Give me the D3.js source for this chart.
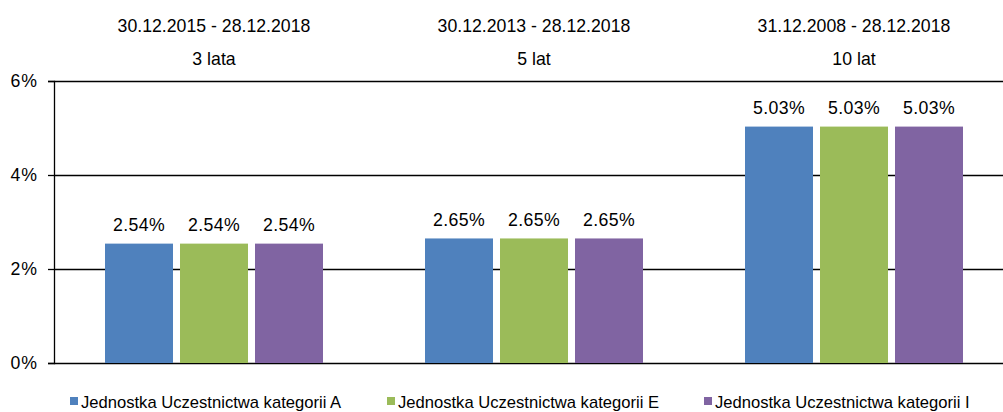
<!DOCTYPE html>
<html>
<head>
<meta charset="utf-8">
<script src="https://cdn.jsdelivr.net/npm/d3@7.9.0/dist/d3.min.js"></script>
<style>
  html, body { margin: 0; padding: 0; background: #fff; }
  svg { display: block; font-family: Arial, "Liberation Sans", sans-serif; }
</style>
</head>
<body>
<div id="chart"></div>
<script>
// data
const periods = ['30.12.2015 - 28.12.2018', '30.12.2013 - 28.12.2018', '31.12.2008 - 28.12.2018'];
const periodNames = ['3 lata', '5 lat', '10 lat'];
const seriesNames = [
    'Jednostka Uczestnictwa kategorii A',
    'Jednostka Uczestnictwa kategorii E',
    'Jednostka Uczestnictwa kategorii I'
];
const seriesA = [2.54, 2.65, 5.03];
const seriesE = [2.54, 2.65, 5.03];
const seriesI = [2.54, 2.65, 5.03];
const yTicks = [0, 2, 4, 6];
const colors = ['#4F81BD', '#9BBB59', '#8064A2'];

const allSeries = [seriesA, seriesE, seriesI];

const width = 1003;
const height = 412;
const margin = { top: 81, right: -11, bottom: 49, left: 54 };
const fontSize = 17.7;

const svg = d3.select('#chart')
    .append('svg')
    .attr('width', width)
    .attr('height', height)
    .attr('viewBox', `0 0 ${width} ${height}`);

const x0 = d3.scaleBand()
    .domain(periods)
    .range([margin.left, width - margin.right])
    .padding(0);

// bars sit in the middle of each group
const x1 = d3.scaleBand()
    .domain(d3.range(seriesNames.length))
    .range([51, 269])
    .paddingInner(7 / 75)
    .paddingOuter(0);

const y = d3.scaleLinear()
    .domain([0, 6])
    .range([height - margin.bottom, margin.top]);

// gridlines
svg.append('g')
    .attr('class', 'gridlines')
    .attr('transform', `translate(${margin.left}, 0)`)
    .call(d3.axisLeft(y).tickValues(yTicks).tickFormat('').tickSize(-(width - margin.left)))
    .call(g => g.select('.domain').remove())
    .call(g => g.selectAll('line').attr('stroke', '#000').attr('stroke-width', 1.3));

// bars
const groups = svg.append('g')
    .selectAll('g')
    .data(periods)
    .join('g')
    .attr('transform', d => `translate(${x0(d)}, 0)`);

groups.selectAll('rect')
    .data((d, i) => allSeries.map((s, k) => ({ k, v: s[i] })))
    .join('rect')
    .attr('x', d => x1(d.k))
    .attr('y', d => y(d.v))
    .attr('width', x1.bandwidth())
    .attr('height', d => y(0) - y(d.v))
    .attr('fill', d => colors[d.k]);

groups.selectAll('text.val')
    .data((d, i) => allSeries.map((s, k) => ({ k, v: s[i] })))
    .join('text')
    .attr('class', 'val')
    .attr('x', d => x1(d.k) + x1.bandwidth() / 2)
    .attr('y', d => y(d.v) - 12.5)
    .attr('text-anchor', 'middle')
    .attr('font-size', fontSize)
    .attr('letter-spacing', 0.4)
    .attr('fill', '#000')
    .text(d => d.v.toFixed(2) + '%');

// group headers
groups.append('text')
    .attr('x', x0.bandwidth() / 2)
    .attr('y', 31.5)
    .attr('text-anchor', 'middle')
    .attr('font-size', fontSize)
    .text(d => d);

groups.append('text')
    .attr('x', x0.bandwidth() / 2)
    .attr('y', 65)
    .attr('text-anchor', 'middle')
    .attr('font-size', fontSize)
    .text((d, i) => periodNames[i]);

// y axis
svg.append('g')
    .attr('class', 'y-axis')
    .attr('transform', `translate(${margin.left}, 0)`)
    .call(d3.axisLeft(y).tickValues(yTicks).tickSize(6).tickPadding(10).tickFormat(d => d + '%'))
    .call(g => g.select('.domain').attr('stroke', '#000').attr('stroke-width', 1.3))
    .call(g => g.selectAll('line').attr('stroke', '#000').attr('stroke-width', 1.3))
    .call(g => g.selectAll('text')
        .attr('font-size', fontSize)
        .attr('letter-spacing', 1)
        .attr('font-family', 'Arial, "Liberation Sans", sans-serif')
        .attr('fill', '#000'));

// legend
const legend = svg.append('g')
    .selectAll('g')
    .data(seriesNames)
    .join('g')
    .attr('transform', (d, i) => `translate(${70 + i * 317}, 397)`);

legend.append('rect')
    .attr('width', 8)
    .attr('height', 8)
    .attr('fill', (d, i) => colors[i]);

legend.append('text')
    .attr('x', 11)
    .attr('y', 10.5)
    .attr('font-size', 16.6)
    .text(d => d);
</script>
</body>
</html>
